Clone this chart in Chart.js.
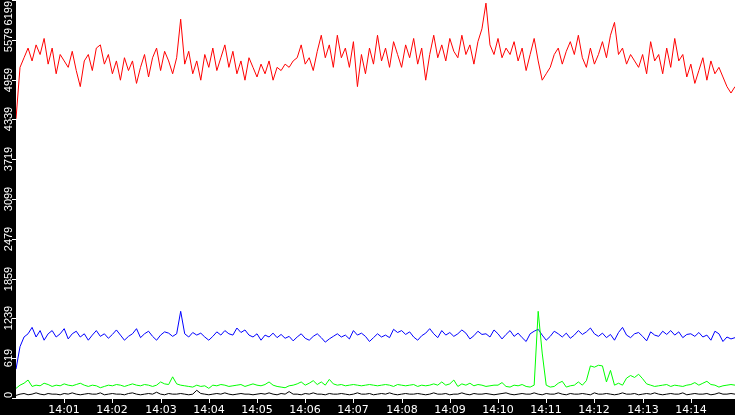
<!DOCTYPE html>
<html>
<head>
<meta charset="utf-8">
<script src="https://cdn.jsdelivr.net/npm/chart.js@4/dist/chart.umd.min.js"></script>
<style>
  html, body { margin: 0; padding: 0; background: #fff; }
  #wrap { width: 735px; height: 415px; position: relative; }
</style>
</head>
<body>
<div id="wrap"><canvas id="chart"></canvas></div>
<script>
'use strict';

// seconds after 14:00:00, one sample every 5 s
var step = 5;
var timeTicks = [60, 120, 180, 240, 300, 360, 420, 480, 540, 600, 660, 720, 780, 840];
var timeLabels = ['14:01', '14:02', '14:03', '14:04', '14:05', '14:06', '14:07',
   '14:08', '14:09', '14:10', '14:11', '14:12', '14:13', '14:14'];
var yMax = 6199;

var redValues = [4350, 5150, 5300, 5450, 5250, 5500, 5350, 5600, 5200, 5450,
   5050, 5350, 5250, 5150, 5400, 5100, 4850, 5250, 5350, 5100,
   5450, 5500, 5200, 5350, 5050, 5250, 4950, 5300, 5100, 5250,
   4900, 5150, 5350, 5000, 5300, 5450, 5100, 5400, 5250, 5050,
   5300, 5900, 5200, 5400, 5050, 5250, 4950, 5350, 5150, 5450,
   5100, 5300, 5500, 5150, 5400, 5050, 5250, 4950, 5300, 5150,
   5000, 5200, 5050, 5250, 4950, 5150, 5100, 5200, 5150, 5250,
   5300, 5500, 5200, 5300, 5100, 5400, 5650, 5300, 5500, 5150,
   5650, 5300, 5450, 5150, 5550, 4850, 5350, 5050, 5450, 5200,
   5650, 5250, 5450, 5150, 5550, 5350, 5150, 5500, 5300, 5600,
   5200, 5450, 4950, 5350, 5650, 5300, 5500, 5250, 5600, 5400,
   5300, 5650, 5350, 5500, 5200, 5550, 5750, 6150, 5500, 5350,
   5600, 5300, 5450, 5350, 5550, 5250, 5450, 5100, 5350, 5600,
   5250, 4950, 5050, 5150, 5350, 5450, 5200, 5400, 5550, 5350,
   5650, 5300, 5150, 5450, 5200, 5350, 5550, 5300, 5650, 5850,
   5350, 5450, 5200, 5350, 5250, 5150, 5350, 5050, 5550, 5250,
   5350, 5050, 5450, 5150, 5600, 5250, 5350, 5000, 5200, 4900,
   5100, 5300, 4950, 5250, 5050, 5150, 5000, 4850, 4750, 4850];

var blueValues = [450, 800, 950, 1000, 1100, 950, 1050, 900, 1000, 1050,
   950, 1000, 1080, 920, 1000, 1040, 950, 1000, 900, 980,
   1050, 960, 1000, 930, 990, 1060, 980, 900, 960, 1000,
   1080, 940, 1000, 1040, 960, 900, 980, 1030, 1010, 960,
   1000, 1350, 1000, 950, 1020, 980, 1010, 950, 900, 960,
   1030, 980, 1050, 1000, 980, 1090, 1020, 1060, 980, 950,
   1000, 900, 980, 950, 1010, 940, 990, 930, 960, 890,
   950, 1000, 930, 900, 960, 1000, 940, 870, 920, 960,
   1000, 950, 980, 920, 1050, 980, 1010, 960, 880, 940,
   1000, 950, 980, 940, 1070, 1020, 1050, 990, 1030, 950,
   900, 970, 1010, 1080, 1000, 940, 1050, 980, 1020, 960,
   1000, 1060, 1010, 920, 970, 1040, 990, 1000, 950, 1060,
   1000, 920, 990, 1050, 960, 1010, 940, 880, 1000, 1040,
   1070, 980, 900, 960, 1040, 1000, 950, 1010, 930, 980,
   1050, 990, 1030, 1090, 1000, 960, 1010, 940, 990, 900,
   1020, 1100, 980, 940, 1000, 1020, 960, 890, 1030, 980,
   960, 1040, 990, 1050, 980, 1030, 940, 990, 1000, 960,
   1020, 950, 980, 900, 1040, 1000, 880, 950, 920, 940];

var greenValues = [150, 200, 230, 280, 180, 200, 190, 230, 210, 180,
   200, 190, 220, 200, 190, 210, 230, 200, 180, 200,
   190, 160, 180, 200, 190, 210, 200, 180, 200, 220,
   200, 190, 210, 200, 180, 200, 250, 220, 210, 330,
   220, 200, 190, 180, 170, 200, 180, 190, 150, 200,
   190, 210, 200, 180, 190, 200, 210, 180, 200, 220,
   200, 190, 210, 250, 200, 180, 170, 160, 190, 200,
   220, 250, 200, 230, 270, 210, 250, 200, 290, 220,
   200, 210, 190, 200, 210, 200, 190, 200, 210, 200,
   190, 200, 210, 200, 180, 210, 200, 190, 200, 210,
   180, 200, 190, 200, 220, 200, 250, 200, 220, 280,
   180, 220, 200, 230, 190, 210, 200, 180, 190, 200,
   200, 240, 180, 170, 200, 190, 210, 180, 170, 200,
   1350, 700, 200, 170, 180, 230, 260, 170, 190, 200,
   250, 200, 270, 500, 480, 510, 500, 250, 430, 200,
   230, 200, 310, 350, 320, 370, 300, 220, 200, 180,
   190, 200, 210, 180, 200, 190, 180, 200, 210, 240,
   200, 230, 260, 210, 200, 170, 190, 200, 210, 200];

var blackValues = [40, 60, 70, 50, 60, 80, 60, 50, 70, 60,
   60, 50, 70, 60, 80, 60, 50, 60, 70, 60,
   60, 80, 50, 60, 70, 60, 60, 50, 70, 80,
   60, 50, 60, 70, 60, 90, 60, 50, 70, 60,
   60, 70, 60, 50, 60, 120, 70, 60, 50, 60,
   70, 60, 80, 60, 50, 60, 70, 60, 60, 50,
   60, 70, 60, 80, 60, 50, 70, 60, 100, 60,
   60, 50, 70, 60, 80, 60, 60, 50, 70, 60,
   60, 70, 60, 50, 60, 80, 60, 60, 70, 50,
   60, 70, 60, 80, 60, 50, 60, 70, 60, 60,
   70, 60, 50, 60, 80, 60, 60, 70, 50, 60,
   60, 80, 60, 50, 70, 60, 60, 70, 60, 50,
   60, 70, 80, 60, 50, 60, 70, 60, 60, 80,
   60, 50, 70, 60, 60, 80, 60, 50, 70, 60,
   60, 70, 60, 50, 80, 60, 60, 70, 60, 50,
   60, 80, 60, 60, 70, 50, 60, 70, 60, 80,
   60, 50, 60, 70, 60, 60, 80, 50, 60, 70,
   60, 60, 70, 50, 60, 80, 60, 60, 70, 60];

function toPoints(values) {
   return values.map(function(v, i) {
      return { x: i * step, y: v };
   });
}

function lineSet(values, color) {
   return {
      data: toPoints(values),
      borderColor: color,
      borderWidth: 1,
      pointRadius: 0,
      tension: 0,
      fill: false
   };
}

// black strips with rotated value labels on the left and times below
var axisStrips = {
   id: 'axisStrips',
   afterDraw: function(chart) {
      var ctx = chart.ctx;
      var area = chart.chartArea;
      var xs = chart.scales.x;
      var ys = chart.scales.y;
      ctx.save();
      ctx.fillStyle = '#000';
      ctx.fillRect(0, 0, area.left, chart.height);
      ctx.fillRect(0, area.bottom + 1, chart.width, chart.height - area.bottom - 1);
      ctx.fillStyle = '#fff';
      ctx.strokeStyle = '#fff';
      ctx.lineWidth = 1;
      ctx.font = '11px "Liberation Sans"';
      for (var k = 0; k <= 10; k++) {
         var v = Math.floor(yMax * k / 10);
         var py = Math.round(ys.getPixelForValue(yMax * k / 10));
         ctx.beginPath();
         ctx.moveTo(area.left - 4, py + 0.5);
         ctx.lineTo(area.left, py + 0.5);
         ctx.stroke();
         ctx.save();
         ctx.translate(12, k === 10 ? 1 : (k === 0 ? area.bottom : py));
         ctx.rotate(-Math.PI / 2);
         ctx.textAlign = k === 0 ? 'left' : (k === 10 ? 'right' : 'center');
         ctx.textBaseline = 'alphabetic';
         ctx.fillText(String(v), 0, 0);
         ctx.restore();
      }
      ctx.font = '11px "DejaVu Sans"';
      ctx.textAlign = 'center';
      ctx.textBaseline = 'alphabetic';
      timeTicks.forEach(function(t, i) {
         var px = Math.round(xs.getPixelForValue(t));
         ctx.beginPath();
         ctx.moveTo(px + 0.5, area.bottom);
         ctx.lineTo(px + 0.5, area.bottom + 5);
         ctx.stroke();
         ctx.fillText(timeLabels[i], px, chart.height - 2);
      });
      ctx.restore();
   }
};

new Chart(document.getElementById('chart'), {
   type: 'line',
   data: {
      datasets: [
         lineSet(blackValues, '#000'),
         lineSet(greenValues, '#00ff00'),
         lineSet(blueValues, '#0000ff'),
         lineSet(redValues, '#ff0000')
      ]
   },
   options: {
      responsive: true,
      maintainAspectRatio: false,
      animation: false,
      layout: { padding: { left: 16, right: 0, top: 0, bottom: 17 } },
      plugins: { legend: { display: false }, tooltip: { enabled: false } },
      scales: {
         x: { type: 'linear', display: false, min: 0, max: 895 },
         y: { type: 'linear', display: false, min: 0, max: yMax }
      }
   },
   plugins: [axisStrips]
});
</script>
</body>
</html>
